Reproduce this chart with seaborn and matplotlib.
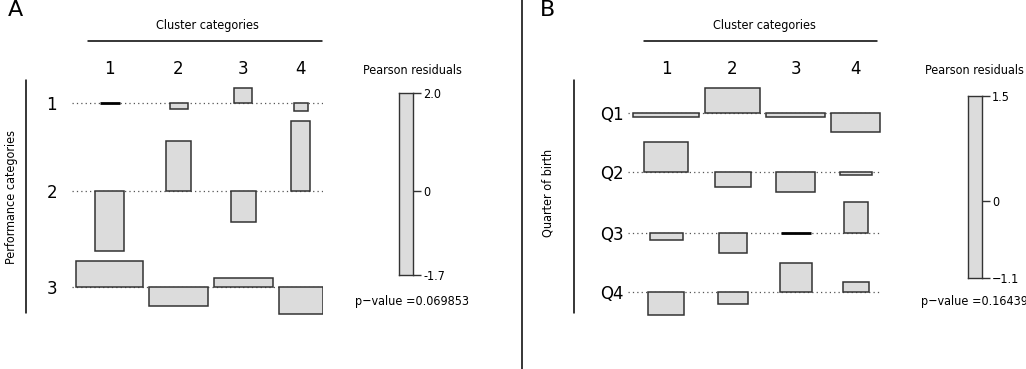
import numpy as np
import matplotlib
matplotlib.use("Agg")
import matplotlib.pyplot as plt
from matplotlib.lines import Line2D
import seaborn as sns

# Data
clusters = ["1", "2", "3", "4"]

perf_rows = ["1", "2", "3"]
perf_resid = [[0.00, -0.17, 0.43, -0.23],
              [-1.72, 1.43, -0.89, 2.00],
              [0.74, -0.54, 0.26, -0.77]]
perf_width = [[20, 18, 18, 14],
              [29, 25, 25, 19],
              [67, 59, 59, 44]]
perf_legend_range = (-1.7, 2.0)
perf_legend_labels = ["-1.7", "0", "2.0"]
perf_pvalue = "0.069853"

quarter_rows = ["Q1", "Q2", "Q3", "Q4"]
quarter_resid = [[-0.19, 1.21, -0.19, -0.94],
                 [1.45, -0.68, -0.92, -0.14],
                 [-0.36, -0.97, 0.00, 1.50],
                 [-1.11, -0.58, 1.40, 0.48]]
quarter_width = [[66, 55, 59, 49],
                 [44, 36, 39, 32],
                 [33, 28, 30, 24],
                 [36, 30, 32, 26]]
quarter_legend_range = (-1.1, 1.5)
quarter_legend_labels = ["\u22121.1", "0", "1.5"]
quarter_pvalue = "0.16439"

# Style
sns.set_style("white")
plt.rcParams["font.family"] = ["DejaVu Sans"]
plt.rcParams["text.color"] = "black"
plt.rcParams["ytick.labelcolor"] = "black"
FILL = "#dcdcdc"
EDGE = "#333333"
SMALL = dict(fontsize=9, fontstretch="condensed")
W, H = 1026, 369

fig = plt.figure(figsize=(W / 100, H / 100), dpi=100)


def fx(px):
    return px / W


def fy(py):
    return 1 - py / H


def assoc(resid, width, row_labels, px_x, xlim, base_px, scale, row_gap_px,
          label_off, col_gap=6):
    R = np.array(resid)
    Wd = np.array(width, dtype=float)
    colmax = Wd.max(axis=0)
    left = np.concatenate([[0], np.cumsum(colmax + col_gap)[:-1]])
    centers = left + colmax / 2
    pos = np.clip(R, 0, None).max(axis=1)
    neg = np.clip(-R, 0, None).max(axis=1)
    gap = row_gap_px / scale
    base = [0.0]
    for i in range(1, len(R)):
        base.append(base[-1] - neg[i - 1] - pos[i] - gap)
    pad = 4 / scale
    ytop = pos[0] + pad
    ybot = base[-1] - neg[-1] - pad
    top_px = base_px - ytop * scale
    h_px = (ytop - ybot) * scale
    ax = fig.add_axes([fx(px_x[0]), fy(top_px + h_px),
                       fx(px_x[1] - px_x[0]), h_px / H])
    ax.set_xlim(*xlim)
    ax.set_ylim(ybot, ytop)
    ax.axis("off")
    for i, b in enumerate(base):
        ax.axhline(b, color="#555555", lw=0.9, ls=(0, (1, 2.5)), zorder=1)
        zero = R[i] == 0
        ax.bar(centers, R[i], width=Wd[i], bottom=b, color=FILL,
               edgecolor=np.where(zero, "black", EDGE),
               lw=np.where(zero, 2.0, 1.1), zorder=2)
        ax.annotate(row_labels[i], xy=(0, b), xycoords=("axes fraction", "data"),
                    xytext=(-label_off * 0.72, 0), textcoords="offset points",
                    ha="right", va="center_baseline", fontsize=12)
    for c, lab in zip(centers, clusters):
        ax.annotate(lab, xy=(c, fy(69)), xycoords=("data", "figure fraction"),
                    ha="center", va="center", fontsize=12)
    return ax


def legend(box, rng, labels, title_x, pval):
    x0, y0, w, h = box
    lax = fig.add_axes([fx(x0), fy(y0 + h), fx(w), h / H])
    lax.set_facecolor(FILL)
    lax.set_ylim(*rng)
    lax.set_xticks([])
    lax.yaxis.tick_right()
    lax.set_yticks([rng[0], 0, rng[1]], labels)
    lax.tick_params(axis="y", length=8 * 0.72, width=1, pad=1.5,
                    color=EDGE, right=True, left=False)
    for t in lax.get_yticklabels():
        t.set_fontsize(9)
        t.set_fontstretch("condensed")
    for s in lax.spines.values():
        s.set_color(EDGE)
        s.set_linewidth(1)
    fig.text(fx(title_x), fy(70), "Pearson residuals", ha="center",
             va="center", **SMALL)
    fig.text(fx(title_x), fy(301), "p\u2212value =" + pval, ha="center",
             va="center", **SMALL)


def fline(xs, ys):
    fig.add_artist(Line2D([fx(x) for x in xs], [fy(y) for y in ys],
                          transform=fig.transFigure, color="black", lw=1.1))


# Panel A
assoc(perf_resid, perf_width, perf_rows, (72, 323), (-4, 247), 103, 35, 10, 15)
legend((399, 93, 14, 182), perf_legend_range, perf_legend_labels, 412, perf_pvalue)
fig.text(fx(15), fy(10), "A", ha="center", va="center", fontsize=16)
fig.text(fx(207), fy(26), "Cluster categories", ha="center", va="center", **SMALL)
fline((88, 322), (41, 41))
fline((26, 26), (80, 313))
fig.text(fx(12), fy(197), "Performance categories", ha="center", va="center",
         rotation=90, **SMALL)

# Panel B
assoc(quarter_resid, quarter_width, quarter_rows, (628, 881), (-5, 248), 113,
      20.7, 10, 4)
legend((968, 96, 14, 182), quarter_legend_range, quarter_legend_labels, 974,
       quarter_pvalue)
fig.text(fx(548), fy(10), "B", ha="center", va="center", fontsize=16)
fig.text(fx(764), fy(26), "Cluster categories", ha="center", va="center", **SMALL)
fline((644, 877), (41, 41))
fline((574, 574), (80, 313))
fig.text(fx(548), fy(193), "Quarter of birth", ha="center", va="center",
         rotation=90, **SMALL)

# divider between panels
fline((522, 522), (0, 369))

fig.savefig("out.png", dpi=100)
